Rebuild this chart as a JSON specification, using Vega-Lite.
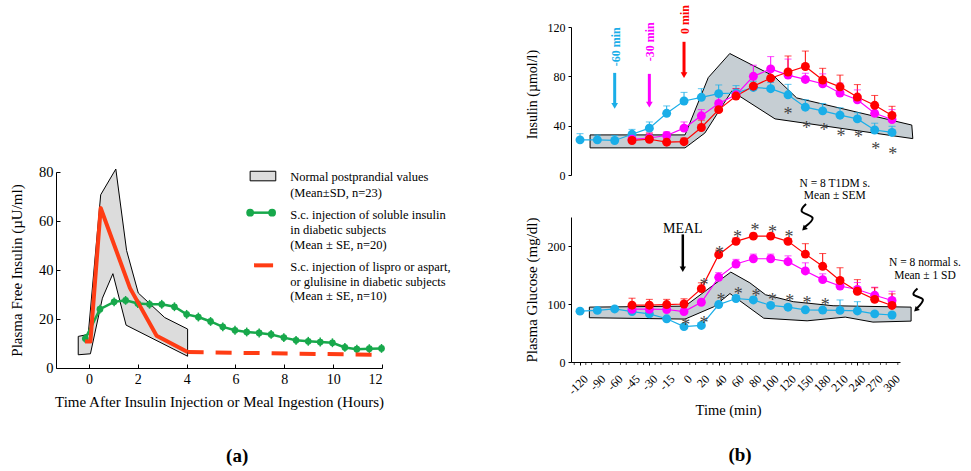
{
  "$schema": "https://vega.github.io/schema/vega-lite/v6.json",
  "autosize": {"type": "pad"},
  "padding": {"left": 9, "top": 5, "right": 5, "bottom": 5},
  "config": {
    "font": "Liberation Serif",
    "view": {"stroke": null},
    "axis": {"grid": false, "domainColor": "#000", "tickColor": "#000", "labelColor": "#000", "titleColor": "#000", "titleFontWeight": "normal", "labelFont": "Liberation Serif", "titleFont": "Liberation Serif"},
    "text": {"font": "Liberation Serif"}
  },
  "datasets": {
    "polyA": [
      {"h": -0.44, "v": 12.9, "o": 1}, {"h": -0.03, "v": 13.7, "o": 2}, {"h": 0.48, "v": 70.7, "o": 3}, {"h": 1.1, "v": 81.2, "o": 4},
      {"h": 1.54, "v": 48, "o": 5}, {"h": 2.02, "v": 30.6, "o": 6}, {"h": 3.1, "v": 20.6, "o": 7}, {"h": 4.04, "v": 15.9, "o": 8},
      {"h": 4.04, "v": 4.8, "o": 9}, {"h": 1.52, "v": 17.5, "o": 10}, {"h": 0.98, "v": 38.5, "o": 11}, {"h": 0.55, "v": 28.5, "o": 12},
      {"h": 0.06, "v": 5.8, "o": 13}, {"h": -0.44, "v": 5.4, "o": 14}, {"h": -0.44, "v": 12.9, "o": 15}
    ],
    "redA": [
      {"h": -0.16, "v": 10.8}, {"h": 0.06, "v": 10.8}, {"h": 0.48, "v": 65.3}, {"h": 1.68, "v": 32.6}, {"h": 2.77, "v": 13.2}, {"h": 4.04, "v": 6.5}
    ],
    "redAdash": [{"h": 4.04, "v": 6.5}, {"h": 11.65, "v": 5.4}],
    "greenA": [
      {"h": -0.15, "v": 12, "lo": 10.2, "hi": 13.8}, {"h": 0.45, "v": 24, "lo": 22.2, "hi": 25.8}, {"h": 1.03, "v": 27, "lo": 25.2, "hi": 28.8},
      {"h": 1.5, "v": 27.6, "lo": 25.8, "hi": 29.4}, {"h": 2.0, "v": 26.3, "lo": 24.5, "hi": 28.1}, {"h": 2.48, "v": 26, "lo": 24.2, "hi": 27.8},
      {"h": 2.98, "v": 26, "lo": 24.2, "hi": 27.8}, {"h": 3.5, "v": 25, "lo": 23.2, "hi": 26.8}, {"h": 4.0, "v": 21.9, "lo": 20.1, "hi": 23.7},
      {"h": 4.48, "v": 20.8, "lo": 19, "hi": 22.6}, {"h": 4.98, "v": 19, "lo": 17.2, "hi": 20.8}, {"h": 5.48, "v": 16.8, "lo": 15, "hi": 18.6},
      {"h": 5.98, "v": 15.4, "lo": 13.6, "hi": 17.2}, {"h": 6.46, "v": 14.7, "lo": 12.9, "hi": 16.5}, {"h": 6.97, "v": 14.3, "lo": 12.5, "hi": 16.1},
      {"h": 7.46, "v": 13.7, "lo": 11.9, "hi": 15.5}, {"h": 7.98, "v": 12.4, "lo": 10.6, "hi": 14.2}, {"h": 8.48, "v": 11.3, "lo": 9.5, "hi": 13.1},
      {"h": 8.98, "v": 10.9, "lo": 9.1, "hi": 12.7}, {"h": 9.47, "v": 10.6, "lo": 8.8, "hi": 12.4}, {"h": 9.97, "v": 10.3, "lo": 8.5, "hi": 12.1},
      {"h": 10.48, "v": 8.4, "lo": 6.6, "hi": 10.2}, {"h": 10.97, "v": 7.7, "lo": 5.9, "hi": 9.5}, {"h": 11.48, "v": 7.9, "lo": 6.1, "hi": 9.7},
      {"h": 11.98, "v": 8, "lo": 6.2, "hi": 9.8}
    ],
    "legA": [
      {"h": 8.24, "v": 78.0, "t": "Normal postprandial values"},
      {"h": 8.24, "v": 71.6, "t": "(Mean±SD, n=23)"},
      {"h": 8.24, "v": 62.5, "t": "S.c. injection of soluble insulin"},
      {"h": 8.24, "v": 56.5, "t": "in diabetic subjects"},
      {"h": 8.24, "v": 50.1, "t": "(Mean ± SE, n=20)"},
      {"h": 8.24, "v": 41.1, "t": "S.c. injection of lispro or aspart,"},
      {"h": 8.24, "v": 35.1, "t": "or glulisine in diabetic subjects"},
      {"h": 8.24, "v": 29.2, "t": "(Mean ± SE, n=10)"}
    ],
    "bandT": [
      {"i": 0.58, "v": 32.5, "o": 1}, {"i": 6.06, "v": 32.5, "o": 2}, {"i": 7.4, "v": 79, "o": 3}, {"i": 8.64, "v": 98.5, "o": 4},
      {"i": 11.2, "v": 80, "o": 5}, {"i": 12.5, "v": 62.5, "o": 6}, {"i": 19.14, "v": 40.5, "o": 7}, {"i": 19.2, "v": 29.5, "o": 8},
      {"i": 11.25, "v": 45.5, "o": 9}, {"i": 8.75, "v": 68, "o": 10}, {"i": 7.2, "v": 34, "o": 11}, {"i": 6.06, "v": 22, "o": 12},
      {"i": 0.58, "v": 22, "o": 13}, {"i": 0.58, "v": 32.5, "o": 14}
    ],
    "bandB": [
      {"i": 0.54, "v": 94.6, "o": 1}, {"i": 6.06, "v": 96.3, "o": 2}, {"i": 8.7, "v": 155, "o": 3}, {"i": 9.8, "v": 136.5, "o": 4},
      {"i": 10.7, "v": 116, "o": 5}, {"i": 12.3, "v": 104, "o": 6}, {"i": 14.6, "v": 97, "o": 7}, {"i": 19.1, "v": 94.6, "o": 8},
      {"i": 19.1, "v": 70.5, "o": 9}, {"i": 16.9, "v": 68.8, "o": 10}, {"i": 15.3, "v": 77.4, "o": 11}, {"i": 13.1, "v": 71, "o": 12},
      {"i": 10.6, "v": 75.5, "o": 13}, {"i": 8.65, "v": 118, "o": 14}, {"i": 7.7, "v": 95, "o": 15}, {"i": 6.06, "v": 74, "o": 16},
      {"i": 0.54, "v": 76.3, "o": 17}, {"i": 0.54, "v": 94.6, "o": 18}
    ],
    "ins": [
      {"s": "c", "i": 0, "v": 28.5, "hi": 33.5}, {"s": "c", "i": 1, "v": 28.5, "hi": 32.5}, {"s": "c", "i": 2, "v": 28, "hi": 32},
      {"s": "c", "i": 3, "v": 33, "hi": 37}, {"s": "c", "i": 4, "v": 38, "hi": 43}, {"s": "c", "i": 5, "v": 50, "hi": 56},
      {"s": "c", "i": 6, "v": 60, "hi": 67}, {"s": "c", "i": 7, "v": 63, "hi": 70}, {"s": "c", "i": 8, "v": 66, "hi": 73},
      {"s": "c", "i": 9, "v": 66.5, "hi": 72.5}, {"s": "c", "i": 10, "v": 71, "hi": 76}, {"s": "c", "i": 11, "v": 70, "hi": 75},
      {"s": "c", "i": 12, "v": 65, "hi": 73.5}, {"s": "c", "i": 13, "v": 55, "hi": 61}, {"s": "c", "i": 14, "v": 52, "hi": 58},
      {"s": "c", "i": 15, "v": 48.5, "hi": 54.5}, {"s": "c", "i": 16, "v": 45.5, "hi": 50.5}, {"s": "c", "i": 17, "v": 36.5, "hi": 42},
      {"s": "c", "i": 18, "v": 34.5, "hi": 39.5},
      {"s": "m", "i": 3, "v": 29, "hi": 33}, {"s": "m", "i": 4, "v": 30, "hi": 34}, {"s": "m", "i": 5, "v": 32, "hi": 35},
      {"s": "m", "i": 6, "v": 38, "hi": 43}, {"s": "m", "i": 7, "v": 48, "hi": 53}, {"s": "m", "i": 8, "v": 58, "hi": 64},
      {"s": "m", "i": 9, "v": 65, "hi": 70}, {"s": "m", "i": 10, "v": 80, "hi": 89}, {"s": "m", "i": 11, "v": 86, "hi": 96},
      {"s": "m", "i": 12, "v": 81, "hi": 94}, {"s": "m", "i": 13, "v": 77.5, "hi": 82.5}, {"s": "m", "i": 14, "v": 74, "hi": 82},
      {"s": "m", "i": 15, "v": 66.5, "hi": 74.5}, {"s": "m", "i": 16, "v": 61, "hi": 69}, {"s": "m", "i": 17, "v": 50, "hi": 57},
      {"s": "m", "i": 18, "v": 45, "hi": 53},
      {"s": "r", "i": 3, "v": 28, "hi": 34}, {"s": "r", "i": 4, "v": 29, "hi": 34}, {"s": "r", "i": 5, "v": 26.6, "hi": 29.6},
      {"s": "r", "i": 6, "v": 27, "hi": 30}, {"s": "r", "i": 7, "v": 38.5, "hi": 44.5}, {"s": "r", "i": 8, "v": 53, "hi": 59},
      {"s": "r", "i": 9, "v": 64, "hi": 70}, {"s": "r", "i": 10, "v": 72, "hi": 79}, {"s": "r", "i": 11, "v": 78.5, "hi": 87.5},
      {"s": "r", "i": 12, "v": 83.5, "hi": 96.5}, {"s": "r", "i": 13, "v": 88, "hi": 100.5}, {"s": "r", "i": 14, "v": 77, "hi": 86.5},
      {"s": "r", "i": 15, "v": 71.5, "hi": 81}, {"s": "r", "i": 16, "v": 63.2, "hi": 73.3}, {"s": "r", "i": 17, "v": 56.5, "hi": 64.5},
      {"s": "r", "i": 18, "v": 48.3, "hi": 55.7}
    ],
    "glu": [
      {"s": "c", "i": 0, "v": 87.7, "hi": 91}, {"s": "c", "i": 1, "v": 89, "hi": 92}, {"s": "c", "i": 2, "v": 91.5, "hi": 95},
      {"s": "c", "i": 3, "v": 87, "hi": 90}, {"s": "c", "i": 4, "v": 83, "hi": 86}, {"s": "c", "i": 5, "v": 74.5, "hi": 78},
      {"s": "c", "i": 6, "v": 61, "hi": 64}, {"s": "c", "i": 7, "v": 63, "hi": 66}, {"s": "c", "i": 8, "v": 99, "hi": 103},
      {"s": "c", "i": 9, "v": 109.5, "hi": 115}, {"s": "c", "i": 10, "v": 107, "hi": 112}, {"s": "c", "i": 11, "v": 97.5, "hi": 102},
      {"s": "c", "i": 12, "v": 94.5, "hi": 99}, {"s": "c", "i": 13, "v": 90, "hi": 94}, {"s": "c", "i": 14, "v": 89.5, "hi": 94},
      {"s": "c", "i": 15, "v": 89, "hi": 107}, {"s": "c", "i": 16, "v": 88, "hi": 104}, {"s": "c", "i": 17, "v": 83, "hi": 87},
      {"s": "c", "i": 18, "v": 81, "hi": 85},
      {"s": "m", "i": 3, "v": 91, "hi": 94}, {"s": "m", "i": 4, "v": 91, "hi": 94}, {"s": "m", "i": 5, "v": 90.5, "hi": 94},
      {"s": "m", "i": 6, "v": 87, "hi": 90}, {"s": "m", "i": 7, "v": 103, "hi": 108}, {"s": "m", "i": 8, "v": 146, "hi": 154},
      {"s": "m", "i": 9, "v": 169, "hi": 177}, {"s": "m", "i": 10, "v": 178, "hi": 186}, {"s": "m", "i": 11, "v": 178, "hi": 186},
      {"s": "m", "i": 12, "v": 173, "hi": 183}, {"s": "m", "i": 13, "v": 157, "hi": 171}, {"s": "m", "i": 14, "v": 142, "hi": 152},
      {"s": "m", "i": 15, "v": 131, "hi": 141}, {"s": "m", "i": 16, "v": 125, "hi": 137}, {"s": "m", "i": 17, "v": 115, "hi": 129},
      {"s": "m", "i": 18, "v": 106, "hi": 122},
      {"s": "r", "i": 3, "v": 98, "hi": 110}, {"s": "r", "i": 4, "v": 98, "hi": 108}, {"s": "r", "i": 5, "v": 99, "hi": 108},
      {"s": "r", "i": 6, "v": 100, "hi": 109}, {"s": "r", "i": 7, "v": 126.5, "hi": 136.5}, {"s": "r", "i": 8, "v": 185, "hi": 193},
      {"s": "r", "i": 9, "v": 208, "hi": 214}, {"s": "r", "i": 10, "v": 217, "hi": 222}, {"s": "r", "i": 11, "v": 217, "hi": 222},
      {"s": "r", "i": 12, "v": 208, "hi": 213}, {"s": "r", "i": 13, "v": 186, "hi": 204}, {"s": "r", "i": 14, "v": 165, "hi": 187},
      {"s": "r", "i": 15, "v": 140.5, "hi": 162.5}, {"s": "r", "i": 16, "v": 122, "hi": 142}, {"s": "r", "i": 17, "v": 108, "hi": 128},
      {"s": "r", "i": 18, "v": 97.5, "hi": 117.5}
    ],
    "astT": [
      {"i": 12.0, "v": 53}, {"i": 13.07, "v": 41}, {"i": 14.07, "v": 39.4}, {"i": 15.06, "v": 34.8}, {"i": 16.06, "v": 34}, {"i": 17.06, "v": 24.4}, {"i": 18.04, "v": 20.4}
    ],
    "astB": [
      {"i": 6.1, "v": 70.5}, {"i": 7.15, "v": 73.4}, {"i": 7.15, "v": 139}, {"i": 8.04, "v": 195.5}, {"i": 9.08, "v": 222.5},
      {"i": 10.1, "v": 234}, {"i": 11.1, "v": 231}, {"i": 12.06, "v": 222.5}, {"i": 8.13, "v": 113.5}, {"i": 9.13, "v": 125},
      {"i": 10.15, "v": 121}, {"i": 11.1, "v": 113.5}, {"i": 12.1, "v": 111.8}, {"i": 13.1, "v": 107.8}, {"i": 14.15, "v": 106}
    ],
    "arrowsT": [
      {"s": "c", "i": 2.0, "y1": 82.8, "y2": 57, "tip": 56},
      {"s": "m", "i": 4.0, "y1": 82, "y2": 58, "tip": 57},
      {"s": "r", "i": 6.0, "y1": 108, "y2": 82, "tip": 81}
    ],
    "arrowLabT": [
      {"s": "c", "i": 2.1, "v": 104, "t": "-60 min"},
      {"s": "m", "i": 4.05, "v": 108, "t": "-30 min"},
      {"s": "r", "i": 6.05, "v": 126, "t": "0 min"}
    ],
    "notesB": [
      {"i": 5.93, "v": 230, "t": "MEAL", "k": "big"},
      {"i": 14.7, "v": 307.5, "t": "N = 8 T1DM s.", "k": "small"},
      {"i": 14.7, "v": 287, "t": "Mean ± SEM", "k": "small"},
      {"i": 19.9, "v": 170.5, "t": "N = 8 normal s.", "k": "small"},
      {"i": 19.9, "v": 147.6, "t": "Mean ± 1 SD", "k": "small"}
    ],
    "squig": [
      {"g": 1, "o": 1, "i": 13.04, "v": 272.4}, {"g": 1, "o": 2, "i": 12.79, "v": 259.8}, {"g": 1, "o": 3, "i": 13.42, "v": 248.3}, {"g": 1, "o": 4, "i": 12.98, "v": 233},
      {"g": 2, "o": 1, "i": 19.47, "v": 126.7}, {"g": 2, "o": 2, "i": 19.24, "v": 116.3}, {"g": 2, "o": 3, "i": 19.78, "v": 107.7}, {"g": 2, "o": 4, "i": 19.45, "v": 93}
    ],
    "squigHead": [{"i": 12.92, "v": 230}, {"i": 19.38, "v": 90}],
    "timeLabels": [
      {"i": 0, "t": "-120"}, {"i": 1, "t": "-90"}, {"i": 2, "t": "-60"}, {"i": 3, "t": "-45"}, {"i": 4, "t": "-30"}, {"i": 5, "t": "-15"},
      {"i": 6, "t": "0"}, {"i": 7, "t": "20"}, {"i": 8, "t": "40"}, {"i": 9, "t": "60"}, {"i": 10, "t": "80"}, {"i": 11, "t": "100"},
      {"i": 12, "t": "120"}, {"i": 13, "t": "150"}, {"i": 14, "t": "180"}, {"i": 15, "t": "210"}, {"i": 16, "t": "240"}, {"i": 17, "t": "270"},
      {"i": 18, "t": "300"}
    ],
    "minorTicks": [
      {"i": -0.3333}, {"i": 0.3333}, {"i": 0.6667}, {"i": 1.3333}, {"i": 1.6667}, {"i": 2.3333}, {"i": 2.6667}, {"i": 3.3333}, {"i": 3.6667},
      {"i": 4.3333}, {"i": 4.6667}, {"i": 5.3333}, {"i": 5.6667}, {"i": 6.3333}, {"i": 6.6667}, {"i": 7.3333}, {"i": 7.6667}, {"i": 8.3333},
      {"i": 8.6667}, {"i": 9.3333}, {"i": 9.6667}, {"i": 10.3333}, {"i": 10.6667}, {"i": 11.3333}, {"i": 11.6667}, {"i": 12.3333}, {"i": 12.6667},
      {"i": 13.3333}, {"i": 13.6667}, {"i": 14.3333}, {"i": 14.6667}, {"i": 15.3333}, {"i": 15.6667}, {"i": 16.3333}, {"i": 16.6667},
      {"i": 17.3333}, {"i": 17.6667}, {"i": 18.3333}
    ]
  },
  "hconcat": [
    {
      "bounds": "flush",
      "spacing": 0,
      "vconcat": [
        {"width": 326, "height": 145, "data": {"values": [{}]}, "mark": {"type": "text", "text": ""}},
        {
          "width": 326,
          "height": 196,
          "layer": [
            {
              "data": {"name": "polyA"},
              "mark": {"type": "line", "fill": "#dcdcdc", "stroke": "#000", "strokeWidth": 1},
              "encoding": {
                "x": {"field": "h", "type": "quantitative", "scale": {"domain": [-1.35, 12], "nice": false, "zero": false},
                  "axis": {"values": [0, 2, 4, 6, 8, 10, 12], "title": "Time After Insulin Injection or Meal Ingestion (Hours)", "labelFontSize": 14, "titleFontSize": 15, "tickSize": -4, "labelPadding": 8, "titlePadding": 8, "labelAngle": 0}},
                "y": {"field": "v", "type": "quantitative", "scale": {"domain": [0, 80], "nice": false},
                  "axis": {"values": [0, 20, 40, 60, 80], "title": "Plasma Free Insulin (µU/ml)", "labelFontSize": 14.5, "titleFontSize": 15, "tickSize": -4, "labelPadding": 7, "titlePadding": 14}},
                "order": {"field": "o", "type": "quantitative"}
              }
            },
            {
              "data": {"name": "greenA"},
              "mark": {"type": "rule", "color": "#17a84b", "strokeWidth": 1.5},
              "encoding": {"x": {"field": "h", "type": "quantitative"}, "y": {"field": "lo", "type": "quantitative"}, "y2": {"field": "hi"}}
            },
            {
              "data": {"name": "greenA"},
              "mark": {"type": "line", "color": "#17a84b", "strokeWidth": 2.5},
              "encoding": {"x": {"field": "h", "type": "quantitative"}, "y": {"field": "v", "type": "quantitative"}}
            },
            {
              "data": {"name": "greenA"},
              "mark": {"type": "circle", "color": "#17a84b", "size": 45, "opacity": 1},
              "encoding": {"x": {"field": "h", "type": "quantitative"}, "y": {"field": "v", "type": "quantitative"}}
            },
            {
              "data": {"name": "redA"},
              "mark": {"type": "line", "color": "#ff3c14", "strokeWidth": 4, "strokeJoin": "round"},
              "encoding": {"x": {"field": "h", "type": "quantitative"}, "y": {"field": "v", "type": "quantitative"}}
            },
            {
              "data": {"name": "redAdash"},
              "mark": {"type": "line", "color": "#ff3c14", "strokeWidth": 4, "strokeDash": [16, 12]},
              "encoding": {"x": {"field": "h", "type": "quantitative"}, "y": {"field": "v", "type": "quantitative"}}
            },
            {
              "data": {"values": [{"h": 6.6, "h2": 7.65, "v": 76.4, "v2": 80.3}]},
              "mark": {"type": "rect", "fill": "#dcdcdc", "stroke": "#000", "strokeWidth": 1},
              "encoding": {"x": {"field": "h", "type": "quantitative"}, "x2": {"field": "h2"}, "y": {"field": "v", "type": "quantitative"}, "y2": {"field": "v2"}}
            },
            {
              "data": {"values": [{"h": 6.6, "v": 63.4}, {"h": 7.5, "v": 63.4}]},
              "mark": {"type": "line", "color": "#17a84b", "strokeWidth": 2.5, "point": {"filled": true, "size": 60, "color": "#17a84b"}},
              "encoding": {"x": {"field": "h", "type": "quantitative"}, "y": {"field": "v", "type": "quantitative"}}
            },
            {
              "data": {"values": [{"h": 6.76, "v": 41.9}, {"h": 7.54, "v": 41.9}]},
              "mark": {"type": "line", "color": "#ff3c14", "strokeWidth": 4},
              "encoding": {"x": {"field": "h", "type": "quantitative"}, "y": {"field": "v", "type": "quantitative"}}
            },
            {
              "data": {"name": "legA"},
              "mark": {"type": "text", "align": "left", "baseline": "middle", "fontSize": 12.5, "color": "#000"},
              "encoding": {"x": {"field": "h", "type": "quantitative"}, "y": {"field": "v", "type": "quantitative"}, "text": {"field": "t"}}
            },
            {
              "data": {"values": [{"h": 6.07, "v": -35.9, "t": "(a)"}]},
              "mark": {"type": "text", "align": "center", "baseline": "middle", "fontSize": 19, "fontWeight": "bold", "color": "#000"},
              "encoding": {"x": {"field": "h", "type": "quantitative"}, "y": {"field": "v", "type": "quantitative"}, "text": {"field": "t"}}
            }
          ]
        }
      ]
    },
    {
      "bounds": "flush",
      "spacing": 42,
      "vconcat": [
        {
          "width": 329,
          "height": 148,
          "layer": [
            {
              "data": {"name": "bandT"},
              "mark": {"type": "line", "fill": "#c6ced3", "stroke": "#000", "strokeWidth": 1},
              "encoding": {
                "x": {"field": "i", "type": "quantitative", "scale": {"domain": [-0.52, 18.46], "nice": false, "zero": false}, "axis": null},
                "y": {"field": "v", "type": "quantitative", "scale": {"domain": [0, 120], "nice": false},
                  "axis": {"values": [0, 20, 40, 60, 80, 100, 120], "title": "Insulin (µmol/l)", "labelFontSize": 12, "titleFontSize": 14, "tickSize": 3, "labelPadding": 3, "titlePadding": 8, "titleY": 67}},
                "order": {"field": "o", "type": "quantitative"}
              }
            },
            {
              "data": {"name": "ins"},
              "mark": {"type": "rule", "strokeWidth": 1},
              "encoding": {"x": {"field": "i", "type": "quantitative"}, "y": {"field": "v", "type": "quantitative"}, "y2": {"field": "hi"},
                "color": {"field": "s", "type": "nominal", "scale": {"domain": ["c", "m", "r"], "range": ["#1aaee8", "#ff00ff", "#ff0000"]}, "legend": null}}
            },
            {
              "data": {"name": "ins"},
              "mark": {"type": "tick", "orient": "horizontal", "size": 7, "thickness": 1},
              "encoding": {"x": {"field": "i", "type": "quantitative"}, "y": {"field": "hi", "type": "quantitative"},
                "color": {"field": "s", "type": "nominal", "scale": {"domain": ["c", "m", "r"], "range": ["#1aaee8", "#ff00ff", "#ff0000"]}, "legend": null}}
            },
            {
              "data": {"name": "ins"},
              "mark": {"type": "line", "strokeWidth": 1.2},
              "encoding": {"x": {"field": "i", "type": "quantitative"}, "y": {"field": "v", "type": "quantitative"},
                "color": {"field": "s", "type": "nominal", "scale": {"domain": ["c", "m", "r"], "range": ["#1aaee8", "#ff00ff", "#ff0000"]}, "legend": null}}
            },
            {
              "data": {"name": "ins"},
              "mark": {"type": "circle", "size": 80, "opacity": 1},
              "encoding": {"x": {"field": "i", "type": "quantitative"}, "y": {"field": "v", "type": "quantitative"},
                "color": {"field": "s", "type": "nominal", "scale": {"domain": ["c", "m", "r"], "range": ["#1aaee8", "#ff00ff", "#ff0000"]}, "legend": null}}
            },
            {
              "data": {"name": "astT"},
              "mark": {"type": "text", "text": "*", "fontSize": 18, "color": "#444", "baseline": "middle", "dy": 5},
              "encoding": {"x": {"field": "i", "type": "quantitative"}, "y": {"field": "v", "type": "quantitative"}}
            },
            {
              "data": {"name": "arrowsT"},
              "mark": {"type": "rule", "strokeWidth": 3},
              "encoding": {"x": {"field": "i", "type": "quantitative"}, "y": {"field": "y1", "type": "quantitative"}, "y2": {"field": "y2"},
                "color": {"field": "s", "type": "nominal", "scale": {"domain": ["c", "m", "r"], "range": ["#1aaee8", "#ff00ff", "#ff0000"]}, "legend": null}}
            },
            {
              "data": {"name": "arrowsT"},
              "mark": {"type": "point", "shape": "triangle-down", "filled": true, "size": 45, "opacity": 1},
              "encoding": {"x": {"field": "i", "type": "quantitative"}, "y": {"field": "tip", "type": "quantitative"},
                "color": {"field": "s", "type": "nominal", "scale": {"domain": ["c", "m", "r"], "range": ["#1aaee8", "#ff00ff", "#ff0000"]}, "legend": null}}
            },
            {
              "data": {"name": "arrowLabT"},
              "mark": {"type": "text", "angle": 270, "align": "center", "baseline": "middle", "fontSize": 12, "fontWeight": "bold"},
              "encoding": {"x": {"field": "i", "type": "quantitative"}, "y": {"field": "v", "type": "quantitative"}, "text": {"field": "t"},
                "color": {"field": "s", "type": "nominal", "scale": {"domain": ["c", "m", "r"], "range": ["#1aaee8", "#ff00ff", "#ff0000"]}, "legend": null}}
            }
          ]
        },
        {
          "width": 329,
          "height": 145,
          "layer": [
            {
              "data": {"name": "bandB"},
              "mark": {"type": "line", "fill": "#c6ced3", "stroke": "#000", "strokeWidth": 1},
              "encoding": {
                "x": {"field": "i", "type": "quantitative", "scale": {"domain": [-0.52, 18.46], "nice": false, "zero": false},
                  "axis": {"values": [0, 1, 2, 3, 4, 5, 6, 7, 8, 9, 10, 11, 12, 13, 14, 15, 16, 17, 18],
                    "labels": false, "tickSize": 3, "title": "Time (min)", "titleFontSize": 14.5, "titlePadding": 38, "titleX": 157}},
                "y": {"field": "v", "type": "quantitative", "scale": {"domain": [0, 250], "nice": false},
                  "axis": {"values": [0, 50, 100, 150, 200, 250], "title": "Plasma Glucose (mg/dl)", "labelFontSize": 12, "titleFontSize": 15, "tickSize": 3, "labelPadding": 3, "titlePadding": 8}},
                "order": {"field": "o", "type": "quantitative"}
              }
            },
            {
              "data": {"name": "minorTicks"},
              "mark": {"type": "tick", "orient": "vertical", "size": 3, "thickness": 1, "color": "#000", "yOffset": 1.5},
              "encoding": {"x": {"field": "i", "type": "quantitative"}, "y": {"datum": 0, "type": "quantitative"}}
            },
            {
              "data": {"name": "timeLabels"},
              "mark": {"type": "text", "angle": 315, "align": "right", "baseline": "middle", "fontSize": 12, "color": "#000", "xOffset": 6, "yOffset": 15},
              "encoding": {"x": {"field": "i", "type": "quantitative"}, "y": {"datum": 0, "type": "quantitative"}, "text": {"field": "t"}}
            },
            {
              "data": {"name": "glu"},
              "mark": {"type": "rule", "strokeWidth": 1},
              "encoding": {"x": {"field": "i", "type": "quantitative"}, "y": {"field": "v", "type": "quantitative"}, "y2": {"field": "hi"},
                "color": {"field": "s", "type": "nominal", "scale": {"domain": ["c", "m", "r"], "range": ["#1aaee8", "#ff00ff", "#ff0000"]}, "legend": null}}
            },
            {
              "data": {"name": "glu"},
              "mark": {"type": "tick", "orient": "horizontal", "size": 7, "thickness": 1},
              "encoding": {"x": {"field": "i", "type": "quantitative"}, "y": {"field": "hi", "type": "quantitative"},
                "color": {"field": "s", "type": "nominal", "scale": {"domain": ["c", "m", "r"], "range": ["#1aaee8", "#ff00ff", "#ff0000"]}, "legend": null}}
            },
            {
              "data": {"name": "glu"},
              "mark": {"type": "line", "strokeWidth": 1.2},
              "encoding": {"x": {"field": "i", "type": "quantitative"}, "y": {"field": "v", "type": "quantitative"},
                "color": {"field": "s", "type": "nominal", "scale": {"domain": ["c", "m", "r"], "range": ["#1aaee8", "#ff00ff", "#ff0000"]}, "legend": null}}
            },
            {
              "data": {"name": "glu"},
              "mark": {"type": "circle", "size": 80, "opacity": 1},
              "encoding": {"x": {"field": "i", "type": "quantitative"}, "y": {"field": "v", "type": "quantitative"},
                "color": {"field": "s", "type": "nominal", "scale": {"domain": ["c", "m", "r"], "range": ["#1aaee8", "#ff00ff", "#ff0000"]}, "legend": null}}
            },
            {
              "data": {"name": "astB"},
              "mark": {"type": "text", "text": "*", "fontSize": 18, "color": "#444", "baseline": "middle", "dy": 5},
              "encoding": {"x": {"field": "i", "type": "quantitative"}, "y": {"field": "v", "type": "quantitative"}}
            },
            {
              "data": {"values": [{"i": 5.93, "y1": 220, "y2": 162}]},
              "mark": {"type": "rule", "strokeWidth": 2.5, "color": "#000"},
              "encoding": {"x": {"field": "i", "type": "quantitative"}, "y": {"field": "y1", "type": "quantitative"}, "y2": {"field": "y2"}}
            },
            {
              "data": {"values": [{"i": 5.93, "v": 160}]},
              "mark": {"type": "point", "shape": "triangle-down", "filled": true, "size": 40, "color": "#000", "opacity": 1},
              "encoding": {"x": {"field": "i", "type": "quantitative"}, "y": {"field": "v", "type": "quantitative"}}
            },
            {
              "data": {"name": "notesB"},
              "mark": {"type": "text", "align": "center", "baseline": "middle", "color": "#000"},
              "encoding": {"x": {"field": "i", "type": "quantitative"}, "y": {"field": "v", "type": "quantitative"}, "text": {"field": "t"},
                "size": {"field": "k", "type": "nominal", "scale": {"domain": ["big", "small"], "range": [14, 11.5]}, "legend": null}}
            },
            {
              "data": {"name": "squig"},
              "mark": {"type": "line", "color": "#000", "strokeWidth": 2, "interpolate": "cardinal"},
              "encoding": {"x": {"field": "i", "type": "quantitative"}, "y": {"field": "v", "type": "quantitative"}, "detail": {"field": "g"}, "order": {"field": "o", "type": "quantitative"}}
            },
            {
              "data": {"name": "squigHead"},
              "mark": {"type": "point", "shape": "triangle-up", "angle": 225, "filled": true, "size": 35, "color": "#000", "opacity": 1},
              "encoding": {"x": {"field": "i", "type": "quantitative"}, "y": {"field": "v", "type": "quantitative"}}
            },
            {
              "data": {"values": [{"i": 9.23, "v": -161, "t": "(b)"}]},
              "mark": {"type": "text", "align": "center", "baseline": "middle", "fontSize": 19, "fontWeight": "bold", "color": "#000"},
              "encoding": {"x": {"field": "i", "type": "quantitative"}, "y": {"field": "v", "type": "quantitative"}, "text": {"field": "t"}}
            }
          ]
        }
      ]
    }
  ],
  "spacing": 72
}
